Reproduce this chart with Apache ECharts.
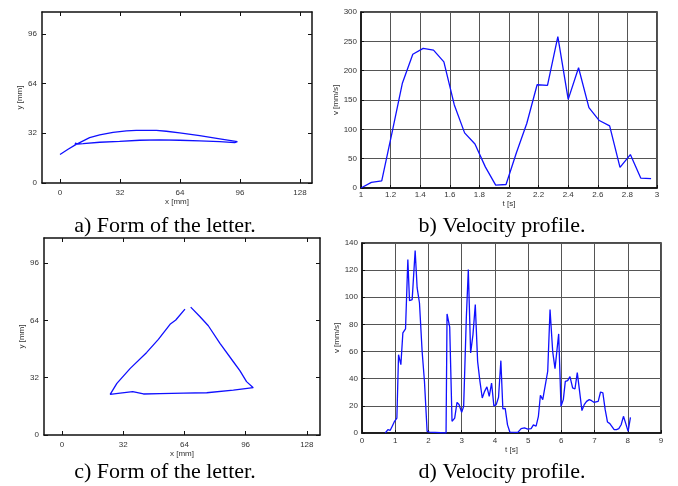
<!DOCTYPE html>
<html>
<head>
<meta charset="utf-8">
<script src="https://cdn.jsdelivr.net/npm/echarts@6.0.0/dist/echarts.min.js"></script>
<style>
  html, body { margin: 0; padding: 0; background: #fff; }
  #chart { width: 678px; height: 486px; }
</style>
</head>
<body>
<div id="chart"></div>
<script>
// Pen trajectory of the first letter (mm)
const letterAX = [0, 4.3, 8.4, 15.8, 21.2, 28.3, 35.4, 40.7, 51.4, 56.7, 63.8, 74.5, 85.2, 94.6,
                  93.2, 85.2, 74.5, 63.8, 53.2, 42.5, 31.8, 21.2, 12.3, 8.0, 8.6];
const letterAY = [18.3, 21.7, 24.7, 29.2, 30.9, 32.6, 33.5, 33.9, 33.9, 33.3, 32.2, 30.5, 28.4, 26.6,
                  26.0, 26.6, 27.1, 27.5, 27.7, 27.5, 26.8, 26.2, 25.3, 24.9, 25.9];

// Velocity profile of the first letter
const velBT = [1.00, 1.07, 1.14, 1.21, 1.28, 1.35, 1.42, 1.49, 1.56, 1.63, 1.70, 1.77, 1.84, 1.91, 1.98,
               2.05, 2.12, 2.19, 2.26, 2.33, 2.40, 2.47, 2.54, 2.61, 2.68, 2.75, 2.82, 2.89, 2.96];
const velBV = [0, 9.5, 12, 95, 179, 228, 238, 235, 215, 142, 94, 75, 36, 5, 6,
               60, 110, 176, 175, 258, 151, 205, 137, 115, 106, 35, 57, 17, 16];

// Pen trajectory of the second letter (triangle, mm)
const letterCX = [64.3, 59.5, 56.5, 50.4, 44.3, 35.7, 28.7, 25.2,
                  30.4, 37.0, 42.6, 51.3, 63.5, 75.7, 89.6, 100.0,
                  96.5, 93.0, 89.6, 82.6, 76.5, 72.2, 67.3];
const letterCY = [70.3, 64.2, 61.8, 53.4, 46.1, 37.2, 28.8, 22.7,
                  23.4, 24.2, 22.9, 23.1, 23.4, 23.6, 25.1, 26.4,
                  29.8, 35.9, 40.9, 51.2, 61.0, 66.0, 71.4];

// Velocity profile of the second letter
const velDT = [0.70, 0.78, 0.85, 0.91, 0.98, 1.05, 1.10, 1.17, 1.23, 1.31, 1.38, 1.43, 1.51, 1.60, 1.66,
               1.73, 1.81, 1.88, 1.96, 2.03, 2.53, 2.56, 2.64, 2.71, 2.79, 2.86, 2.92, 3.00, 3.06, 3.14,
               3.20, 3.27, 3.34, 3.41, 3.48, 3.55, 3.62, 3.69, 3.76, 3.83, 3.90, 3.97, 4.04, 4.11, 4.18,
               4.24, 4.31, 4.38, 4.45, 4.69, 4.79, 4.89, 4.99, 5.09, 5.16, 5.24, 5.31, 5.37, 5.44, 5.52,
               5.59, 5.66, 5.74, 5.81, 5.86, 5.92, 5.99, 6.06, 6.12, 6.19, 6.26, 6.34, 6.41, 6.48, 6.55,
               6.62, 6.69, 6.76, 6.84, 6.91, 6.98, 7.04, 7.11, 7.18, 7.25, 7.32, 7.39, 7.46, 7.52, 7.59,
               7.66, 7.73, 7.80, 7.87, 7.94, 8.01, 8.08];
const velDV = [0, 2.5, 2, 5, 8.6, 11, 57.7, 50.4, 73.7, 76.7, 127.8, 97.5, 98.3, 134.4, 106.9,
               95.8, 60, 38, 1.2, 0.7, 0, 87.7, 78, 8.6, 11, 22.6, 21, 15.2, 19.7, 84.8,
               120.4, 59, 72.5, 94.6, 52.8, 38, 25.8, 30.7, 34, 27, 36.8, 20, 20.9, 26.3, 53.3,
               17.7, 18.2, 6, 0.7, 0.5, 3.2, 3.7, 2.9, 3.2, 6, 5, 12.3, 27.8, 24.6, 35.6,
               45.5, 91, 60, 47.4, 59, 73, 19.7, 24.6, 38, 38.6, 41.5, 33.2, 32.4, 44.5, 30.7,
               16.5, 20.9, 23.3, 24.6, 23.8, 22.6, 22.1, 23.3, 30.2, 29.5, 17.2, 8.1, 6.9, 7.9, 2.5,
               2.5, 3.2, 6.1, 12.3, 6.9, 1.2, 11.5];

// Tick positions
const mmXTicks = [0, 32, 64, 96, 128];
const mmYTicks = [0, 32, 64, 96];

const captions = ['a) Form of the letter.', 'b) Velocity profile.', 'c) Form of the letter.', 'd) Velocity profile.'];

const pairs = (xs, ys) => xs.map((x, i) => [x, ys[i]]);

const tickFont = { fontFamily: 'Liberation Sans', fontSize: 8, color: '#333' };
const nameFont = { fontFamily: 'Liberation Sans', fontSize: 8, color: '#333' };
const boxLine = { show: true, onZero: false, lineStyle: { color: '#111', width: 1.5 } };
const blue = { color: '#1010ff', width: 1.3 };

// Boxed trajectory axes with inward ticks on all four sides
function trajectoryAxes(gridIndex, xmin, xmax) {
  const tick = (vals) => ({ show: true, inside: true, length: 4, customValues: vals, lineStyle: { color: '#111' } });
  const xs = [
    {
      gridIndex, type: 'value', position: 'bottom', min: xmin, max: xmax,
      axisLine: boxLine, axisTick: tick(mmXTicks),
      axisLabel: Object.assign({ customValues: mmXTicks, margin: 6 }, tickFont),
      splitLine: { show: false },
      name: 'x [mm]', nameLocation: 'middle', nameGap: 13, nameTextStyle: nameFont
    },
    {
      gridIndex, type: 'value', position: 'top', min: xmin, max: xmax,
      axisLine: boxLine, axisTick: tick(mmXTicks),
      axisLabel: { show: false, customValues: mmXTicks },
      splitLine: { show: false }
    }
  ];
  const ys = [
    {
      gridIndex, type: 'value', position: 'left', min: 0, max: 110,
      axisLine: boxLine, axisTick: tick(mmYTicks),
      axisLabel: Object.assign({ customValues: mmYTicks, margin: 5 }, tickFont),
      splitLine: { show: false },
      name: 'y [mm]', nameLocation: 'middle', nameGap: 15, nameRotate: 90, nameTextStyle: nameFont
    },
    {
      gridIndex, type: 'value', position: 'right', min: 0, max: 110,
      axisLine: boxLine, axisTick: tick(mmYTicks),
      axisLabel: { show: false, customValues: mmYTicks },
      splitLine: { show: false }
    }
  ];
  return { xs, ys };
}

const gridLine = { show: true, lineStyle: { color: '#555', width: 1 } };

function velocityAxes(gridIndex, xmin, xmax, xint, ymax, yint, labelMargin, nameGap) {
  return {
    x: {
      gridIndex, type: 'value', min: xmin, max: xmax, interval: xint,
      axisLine: boxLine,
      axisTick: { show: true, inside: true, length: 3, lineStyle: { color: '#111' } },
      axisLabel: Object.assign({ margin: labelMargin, showMinLabel: true, showMaxLabel: true }, tickFont),
      splitLine: gridLine,
      name: 't [s]', nameLocation: 'middle', nameGap, nameTextStyle: nameFont
    },
    y: {
      gridIndex, type: 'value', min: 0, max: ymax, interval: yint,
      axisLine: boxLine,
      axisTick: { show: true, inside: true, length: 3, lineStyle: { color: '#111' } },
      axisLabel: Object.assign({ margin: 4 }, tickFont),
      splitLine: gridLine,
      name: 'v [mm/s]', nameLocation: 'middle', nameGap: 20, nameRotate: 90, nameTextStyle: nameFont
    }
  };
}

const tA = trajectoryAxes(0, -9.6, 134.4);
const tC = trajectoryAxes(2, -9.4, 134.9);
const vB = velocityAxes(1, 1, 3, 0.2, 300, 50, 3, 12);
const vD = velocityAxes(3, 0, 9, 1, 140, 20, 4, 11);

const captionStyle = (text) => ({ text, font: '22px "Liberation Serif"', fill: '#000', align: 'center', verticalAlign: 'middle' });

const option = {
  animation: false,
  backgroundColor: '#fff',
  grid: [
    { left: 42, top: 12, width: 270, height: 171 },
    { left: 361, top: 12, width: 296, height: 176, show: true, borderColor: '#111', borderWidth: 1.5 },
    { left: 44, top: 238, width: 276, height: 197 },
    { left: 362, top: 243, width: 299, height: 190, show: true, borderColor: '#111', borderWidth: 1.5 }
  ],
  // axis indices: 0,1 panel a; 2 panel b; 3,4 panel c; 5 panel d
  xAxis: [tA.xs[0], tA.xs[1], vB.x, tC.xs[0], tC.xs[1], vD.x],
  yAxis: [tA.ys[0], tA.ys[1], vB.y, tC.ys[0], tC.ys[1], vD.y],
  series: [
    { type: 'line', xAxisIndex: 0, yAxisIndex: 0, data: pairs(letterAX, letterAY), showSymbol: false, lineStyle: blue, silent: true },
    { type: 'line', xAxisIndex: 2, yAxisIndex: 2, data: pairs(velBT, velBV), showSymbol: false, lineStyle: blue, silent: true },
    { type: 'line', xAxisIndex: 3, yAxisIndex: 3, data: pairs(letterCX, letterCY), showSymbol: false, lineStyle: blue, silent: true },
    { type: 'line', xAxisIndex: 5, yAxisIndex: 5, data: pairs(velDT, velDV), showSymbol: false, lineStyle: blue, silent: true }
  ],
  graphic: [
    { type: 'text', x: 165, y: 226, style: captionStyle(captions[0]) },
    { type: 'text', x: 502, y: 226, style: captionStyle(captions[1]) },
    { type: 'text', x: 165, y: 472, style: captionStyle(captions[2]) },
    { type: 'text', x: 502, y: 472, style: captionStyle(captions[3]) }
  ]
};

const chart = echarts.init(document.getElementById('chart'), null, { renderer: 'canvas' });
chart.setOption(option);
</script>
</body>
</html>
